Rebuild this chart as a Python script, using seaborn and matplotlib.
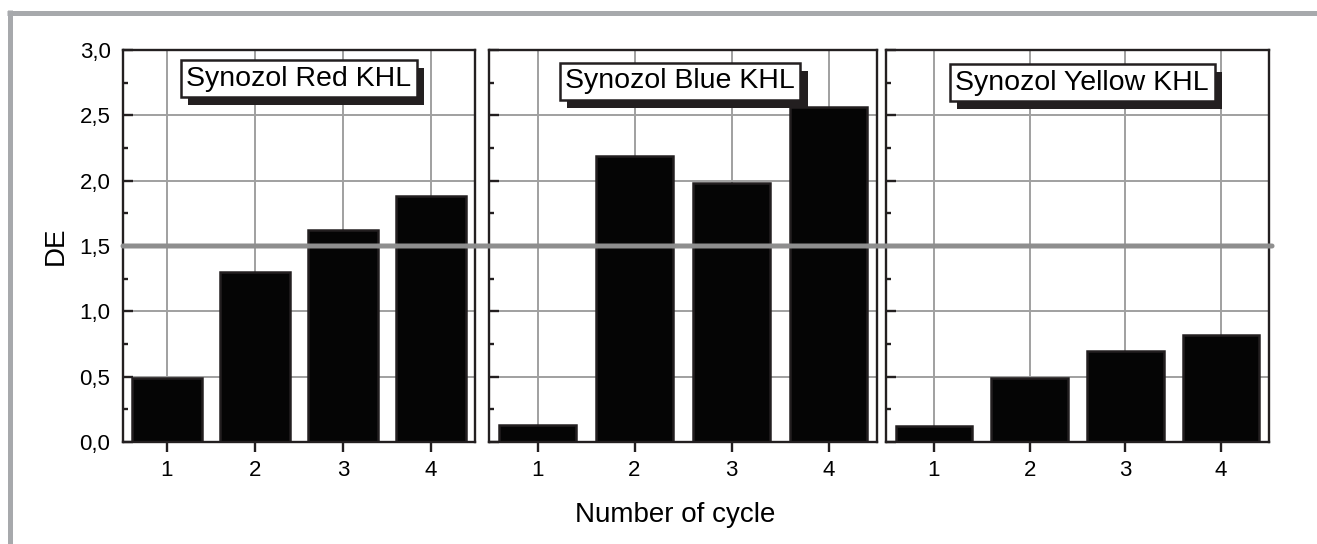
import matplotlib
matplotlib.use("Agg")
import matplotlib.pyplot as plt
import matplotlib.patheffects as pe
from matplotlib.patches import ConnectionPatch
from matplotlib.lines import Line2D
from matplotlib.ticker import MultipleLocator, FuncFormatter
import seaborn as sns
import pandas as pd

# ---- data ----
cycles = [1, 2, 3, 4]
red_khl = [0.49, 1.30, 1.62, 1.88]
blue_khl = [0.13, 2.19, 1.98, 2.56]
yellow_khl = [0.12, 0.49, 0.70, 0.82]
panel_titles = ["Synozol Red KHL", "Synozol Blue KHL", "Synozol Yellow KHL"]
y_ticks = [0.0, 0.5, 1.0, 1.5, 2.0, 2.5, 3.0]
threshold = 1.5
y_label = "DE"
x_label = "Number of cycle"

sns.set_theme(style="white")
plt.rcParams['font.family'] = ['Liberation Sans', 'DejaVu Sans']
plt.rcParams['text.color'] = 'black'
plt.rcParams['axes.labelcolor'] = 'black'

W, H = 1317, 544
fig = plt.figure(figsize=(W / 100, H / 100), dpi=100)
fig.patch.set_facecolor("white")

# axes boxes in pixels: (left, right, top, bottom)
boxes = [(123, 475, 50, 442), (489, 877, 50, 442), (886, 1269, 50, 442)]
label_pos = [(2.50, 2.78), (2.47, 2.76), (2.55, 2.75)]
series = [red_khl, blue_khl, yellow_khl]

spine_col = "#231f20"
grid_col = "#a0a0a0"

axes = []
for i, ((l, r, t, b), vals, title, (tx, ty)) in enumerate(zip(boxes, series, panel_titles, label_pos)):
    ax = fig.add_axes([l / W, (H - b) / H, (r - l) / W, (b - t) / H])
    df = pd.DataFrame({"cycle": cycles, "DE": vals})
    sns.barplot(data=df, x="cycle", y="DE", ax=ax, native_scale=True, width=0.8,
                color="#050505", edgecolor=spine_col, linewidth=1.8, saturation=1)
    ax.set_xlim(0.5, 4.5)
    ax.set_ylim(0, 3.0)
    ax.set_xticks(cycles)
    ax.set_xticklabels([str(c) for c in cycles])
    ax.set_yticks(y_ticks)
    ax.yaxis.set_minor_locator(MultipleLocator(0.25))
    ax.set_axisbelow(True)
    ax.grid(True, which="major", color=grid_col, lw=1.4)
    for s in ax.spines.values():
        s.set_visible(True)
        s.set_color(spine_col)
        s.set_linewidth(1.7)
    ax.tick_params(axis="y", which="major", direction="in", length=7.5, width=1.7,
                   color=spine_col, labelcolor="black", labelsize=16, pad=9, left=True)
    ax.tick_params(axis="y", which="minor", direction="in", length=3.8, width=1.7,
                   color=spine_col, left=True)
    ax.tick_params(axis="x", which="major", direction="out", length=7, width=1.7,
                   color=spine_col, labelcolor="black", labelsize=16, pad=6, bottom=True)
    ax.set_xlabel("")
    if i == 0:
        ax.yaxis.set_major_formatter(FuncFormatter(lambda v, p: f"{v:.1f}".replace(".", ",")))
        ax.set_ylabel(y_label, fontsize=20, labelpad=8, color="black")
    else:
        ax.set_yticklabels([])
        ax.set_ylabel("")
    txt = ax.text(tx, ty, title, ha="center", va="center", fontsize=20.5, color="black",
                  zorder=6,
                  bbox=dict(boxstyle="square,pad=0.19", fc="white", ec=spine_col, lw=1.8))
    txt.get_bbox_patch().set_path_effects([
        pe.SimplePatchShadow(offset=(5.2, -5.8), shadow_rgbFace=spine_col, alpha=1.0),
        pe.Normal()])
    axes.append(ax)

# threshold line spanning all panels
con = ConnectionPatch(xyA=(0, threshold), coordsA=axes[0].get_yaxis_transform(),
                      xyB=(1.008, threshold), coordsB=axes[2].get_yaxis_transform(),
                      color="#8e8e8e", lw=3.6, zorder=10, clip_on=False)
fig.add_artist(con)

fig.text(675 / W, 1 - 515 / H, x_label, ha="center", va="center", fontsize=20, color="black")

# decorative frame
frame_col = "#a7a9ac"
fig.add_artist(Line2D([7 / W, 1.0], [1 - 12.5 / H, 1 - 12.5 / H], color=frame_col, lw=3.6,
                      transform=fig.transFigure, solid_capstyle="butt"))
fig.add_artist(Line2D([9.5 / W, 9.5 / W], [1 - 10 / H, 0.0], color=frame_col, lw=3.6,
                      transform=fig.transFigure, solid_capstyle="butt"))

fig.savefig("out.png", dpi=100, facecolor="white")
